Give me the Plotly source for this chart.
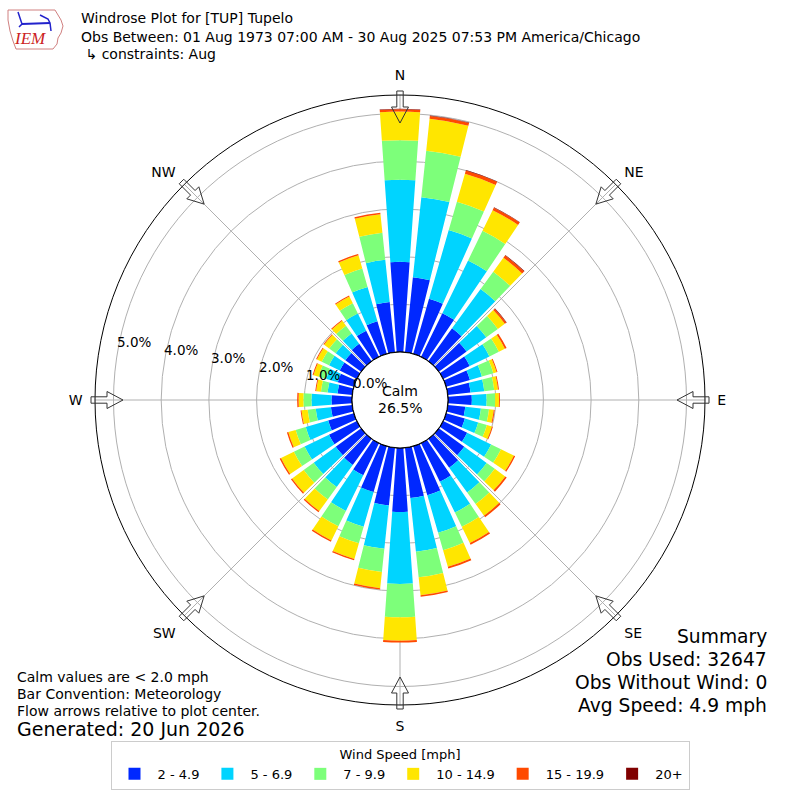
import numpy as np
import plotly.graph_objects as go

# ---------------- data (percent of observations) ----------------
directions = list(range(0, 360, 10))
speed_bins = ["2 - 4.9", "5 - 6.9", "7 - 9.9", "10 - 14.9", "15 - 19.9", "20+"]
bin_colors = ["#0028FF", "#00D4FF", "#7DFF7A", "#FFE600", "#FF4A00", "#800000"]

pct_2_5 = [1.89, 1.58, 1.20, 1.02, 0.85, 0.72, 0.62, 0.52, 0.48, 0.50, 0.37, 0.41,
           0.56, 0.66, 0.75, 0.90, 1.07, 1.06, 1.34, 1.22, 1.00, 0.75, 0.68, 0.66,
           0.65, 0.56, 0.45, 0.43, 0.31, 0.35, 0.40, 0.41, 0.45, 0.61, 0.71, 1.06]
pct_5_7 = [1.72, 1.69, 1.50, 1.23, 1.02, 0.51, 0.46, 0.26, 0.29, 0.31, 0.33, 0.29,
           0.56, 0.58, 0.64, 0.72, 0.82, 1.13, 1.51, 0.91, 0.76, 0.83, 0.57, 0.57,
           0.57, 0.49, 0.32, 0.42, 0.21, 0.25, 0.25, 0.25, 0.27, 0.40, 0.75, 0.89]
pct_7_10 = [0.83, 0.98, 0.62, 0.69, 0.45, 0.30, 0.22, 0.25, 0.21, 0.18, 0.17, 0.19,
            0.23, 0.21, 0.30, 0.33, 0.38, 0.54, 0.70, 0.49, 0.36, 0.36, 0.32, 0.26,
            0.25, 0.22, 0.17, 0.17, 0.14, 0.17, 0.17, 0.17, 0.20, 0.24, 0.40, 0.57]
pct_10_15 = [0.60, 0.67, 0.61, 0.48, 0.36, 0.18, 0.14, 0.07, 0.08, 0.08, 0.10, 0.11,
             0.30, 0.27, 0.30, 0.38, 0.36, 0.38, 0.49, 0.34, 0.34, 0.33, 0.30, 0.30,
             0.30, 0.16, 0.13, 0.10, 0.10, 0.11, 0.11, 0.13, 0.13, 0.16, 0.29, 0.39]
pct_15_20 = [0.05, 0.06, 0.07, 0.06, 0.06, 0.04, 0.04, 0.02, 0.02, 0.02, 0.02, 0.02,
             0.03, 0.04, 0.04, 0.04, 0.04, 0.03, 0.04, 0.03, 0.03, 0.03, 0.03, 0.03,
             0.03, 0.03, 0.02, 0.03, 0.02, 0.02, 0.02, 0.02, 0.02, 0.02, 0.03, 0.03]
pct_20p = [0.01, 0.01, 0.01, 0.01, 0.01, 0.01, 0.00, 0.00, 0.00, 0.00, 0.00, 0.00,
           0.00, 0.00, 0.00, 0.00, 0.00, 0.00, 0.00, 0.00, 0.00, 0.00, 0.00, 0.00,
           0.00, 0.00, 0.00, 0.00, 0.00, 0.00, 0.00, 0.00, 0.00, 0.00, 0.00, 0.00]
series = [pct_2_5, pct_5_7, pct_7_10, pct_10_15, pct_15_20, pct_20p]

radial_ticks = [0, 1, 2, 3, 4, 5]
compass_angles = [0, 45, 90, 135, 180, 225, 270, 315]
compass_labels = ["N", "NE", "E", "SE", "S", "SW", "W", "NW"]
calm_pct = 26.5

FONT = "DejaVu Sans"
W = H = 800
CX, CY = 400, 400          # pixel centre of the rose
R_OUT = 305                # pixel radius of outer circle
R_HOLE = 48                # pixel radius of calm hole
RING = 47.7                # pixels per 1 %

fig = go.Figure()

for name, vals, col in zip(speed_bins, series, bin_colors):
    fig.add_trace(go.Barpolar(
        r=vals, theta=directions, width=[8] * len(directions),
        name=name, marker=dict(color=col, line=dict(width=0)),
        hoverinfo="skip",
    ))

# calm hole edge
fig.add_trace(go.Scatterpolar(
    r=[0] * 181, theta=list(np.linspace(0, 360, 181)), mode="lines",
    line=dict(color="black", width=1.2), showlegend=False, hoverinfo="skip",
    cliponaxis=False,
))

dom = [(CX - R_OUT) / W, (CX + R_OUT) / W]
fig.update_layout(
    width=W, height=H, margin=dict(l=0, r=0, t=0, b=0),
    paper_bgcolor="white", plot_bgcolor="white",
    font=dict(family=FONT, size=13, color="black"),
    polar=dict(
        domain=dict(x=dom, y=dom),
        bgcolor="white",
        hole=R_HOLE / R_OUT,
        barmode="stack",
        radialaxis=dict(range=[0, (R_OUT - R_HOLE) / RING], tickvals=radial_ticks[1:],
                        showticklabels=False, ticks="", showline=False,
                        gridcolor="#b0b0b0", gridwidth=1),
        angularaxis=dict(direction="clockwise", rotation=90,
                         tickvals=compass_angles, ticktext=compass_labels,
                         tickfont=dict(family=FONT, size=14, color="black"),
                         ticks="outside", ticklen=9, tickcolor="rgba(0,0,0,0)",
                         showline=True, linecolor="black", linewidth=1,
                         gridcolor="#b0b0b0", gridwidth=1),
    ),
    legend=dict(
        orientation="h", x=0.5, xanchor="center", y=1 - 741 / H, yanchor="top",
        bordercolor="#cccccc", borderwidth=1, bgcolor="white",
        font=dict(family=FONT, size=13),
        title=dict(text="Wind Speed [mph]", side="top center",
                   font=dict(family=FONT, size=13)),
        traceorder="normal", itemwidth=36,
    ),
    showlegend=True,
)

# flow arrows (pointing towards centre)
shapes = []
for ang in compass_angles:
    t = np.deg2rad(ang)
    u = np.array([np.sin(t), np.cos(t)])     # outward, y up
    p = np.array([np.cos(t), -np.sin(t)])    # perpendicular
    r0, r1, r2 = R_OUT + 4, R_OUT - 12, R_OUT - 28
    sw, hw = 3.2, 8.5
    pts = [u * r0 + p * sw, u * r1 + p * sw, u * r1 + p * hw, u * r2,
           u * r1 - p * hw, u * r1 - p * sw, u * r0 - p * sw]
    path = "M " + " L ".join(f"{(CX + q[0]) / W:.5f},{(H - CY + q[1]) / H:.5f}" for q in pts) + " Z"
    shapes.append(dict(type="path", path=path, xref="paper", yref="paper",
                       line=dict(color="#333333", width=1), fillcolor="rgba(255,255,255,0)",
                       layer="above"))

# simple IEM logo outline (decoration)
def pix_path(points, close=True):
    s = "M " + " L ".join(f"{x / W:.5f},{1 - y / H:.5f}" for x, y in points)
    return s + (" Z" if close else "")
logo_outline = [(8, 10), (55, 10), (58, 15), (61, 20), (63, 26), (61, 33), (58, 38),
                (57, 44), (53, 49), (16, 49), (13, 41), (10, 31), (8, 20)]
shapes.append(dict(type="path", path=pix_path(logo_outline), xref="paper", yref="paper",
                   line=dict(color="#d08080", width=1), fillcolor="rgba(0,0,0,0)"))
shapes.append(dict(type="path", path=pix_path([(22, 24), (50, 23)], close=False),
                   xref="paper", yref="paper", line=dict(color="#2222cc", width=2)))
shapes.append(dict(type="path", path=pix_path([(18, 12), (22, 24), (19, 27)], close=False),
                   xref="paper", yref="paper", line=dict(color="#2222cc", width=1.5)))
shapes.append(dict(type="path", path=pix_path([(40, 15), (48, 19), (50, 23), (51, 31)], close=False),
                   xref="paper", yref="paper", line=dict(color="#2222cc", width=1.5)))
fig.update_layout(shapes=shapes)

ann = []
def txt(x, y, s, size=13, xanchor="left", color="black", **kw):
    ann.append(dict(x=x / W, y=1 - y / H, xref="paper", yref="paper", text=s,
                    showarrow=False, xanchor=xanchor, yanchor="middle",
                    font=dict(family=kw.get("family", FONT), size=size, color=color)))

# radial labels
for i, v in enumerate(radial_ticks):
    txt(370 - 47.2 * i, 383 - 8.2 * i, f"{v:.1f}%", size=13.5, xanchor="center")

# calm text
txt(400, 391, "Calm", size=14, xanchor="center")
txt(400, 408, f"{calm_pct}%", size=14, xanchor="center")

# header
txt(79, 18, "Windrose Plot for [TUP] Tupelo", size=14)
txt(79, 37, "Obs Between: 01 Aug 1973 07:00 AM - 30 Aug 2025 07:53 PM America/Chicago", size=14)
txt(79, 54, " ↳ constraints: Aug", size=14)
txt(30, 39, "<i>IEM</i>", size=17, xanchor="center", color="#cc2222", family="Liberation Serif")

# summary
for i, s in enumerate(["Summary", "Obs Used: 32647", "Obs Without Wind: 0", "Avg Speed: 4.9 mph"]):
    txt(769, 636 + 23 * i, s, size=18.7, xanchor="right")

# notes
txt(15, 677, "Calm values are < 2.0 mph", size=14)
txt(15, 694, "Bar Convention: Meteorology", size=14)
txt(15, 711, "Flow arrows relative to plot center.", size=14)
txt(15, 729, "Generated: 20 Jun 2026", size=19)

fig.update_layout(annotations=ann)
fig.write_html("out.html", config={"displayModeBar": False},
               post_script="document.body.style.margin='0px';document.body.style.overflow='hidden';")
